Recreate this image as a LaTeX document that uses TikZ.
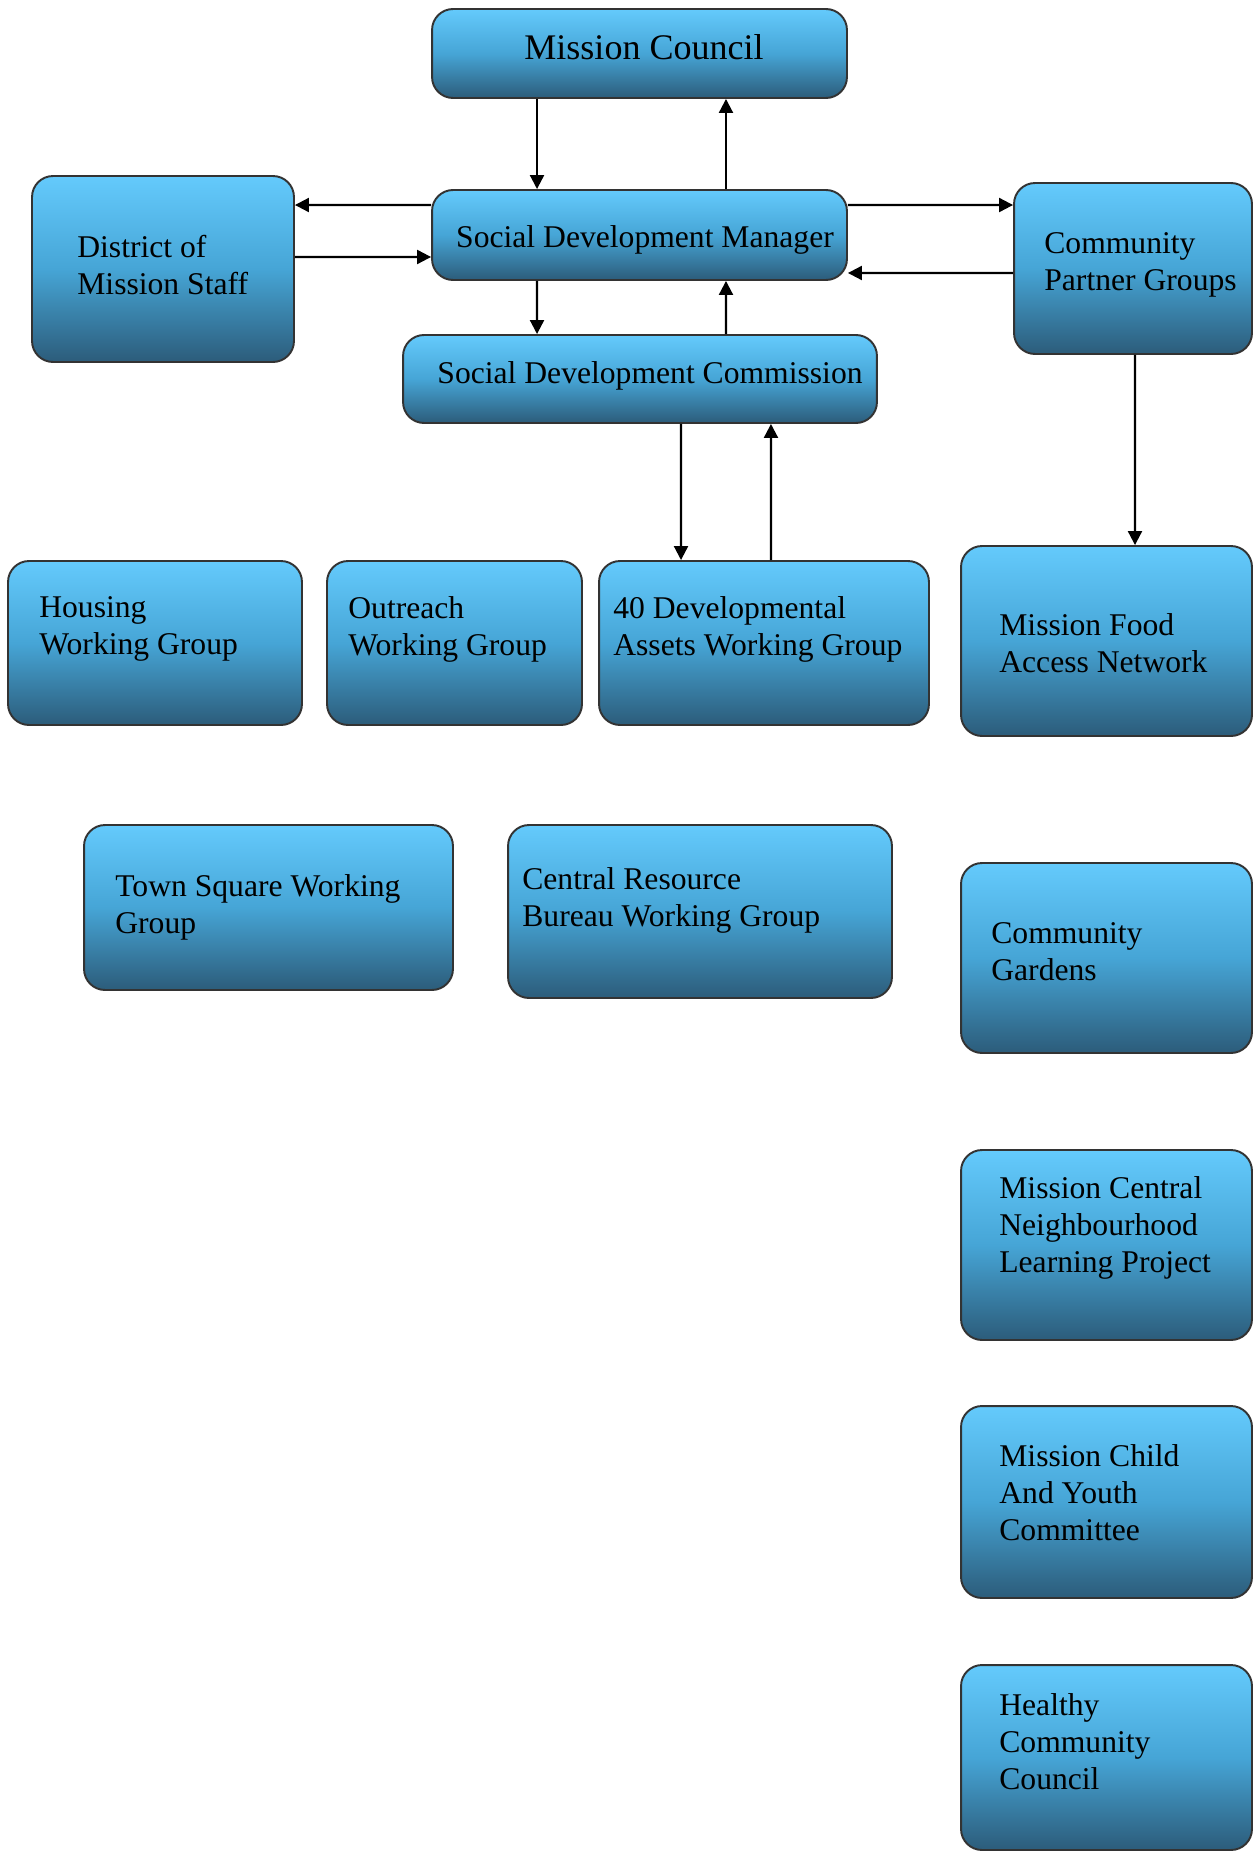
\documentclass[tikz,border=0pt]{standalone}
\usepackage{fontspec}
\setmainfont{Liberation Serif}
\usetikzlibrary{arrows.meta,positioning}
\definecolor{boxtop}{RGB}{100,202,252}
\definecolor{boxmid}{RGB}{70,165,214}
\definecolor{boxbot}{RGB}{44,92,122}

\begin{document}
\begin{tikzpicture}[x=0.02cm, y=-0.02cm,
	box/.style={draw=black!80, line width=1.1pt, rounded corners=0.42cm,
		top color=boxtop, bottom color=boxbot, middle color=boxmid, inner sep=0pt},
	lbl/.style={anchor=west, align=left, inner sep=0pt, font=\fontsize{18}{21}\selectfont},
	arr/.style={-{Triangle[length=0.28cm,width=0.28cm]}, line width=1.2pt}]
		\useasboundingbox[fill=white] (0,0) rectangle (1254,1852);
		% boxes
		\begin{scope}
			\node[box, minimum width=8.3cm, minimum height=1.78cm] (mc) at (639.5,53.5) {};
			\node[box, minimum width=8.3cm, minimum height=1.8cm] (sdm) at (639.5,235) {};
			\node[box, minimum width=9.48cm, minimum height=1.76cm] (sdc) at (640,379) {};
			\node[box, minimum width=5.24cm, minimum height=3.72cm] (dist) at (163,269) {};
			\node[box, minimum width=4.76cm, minimum height=3.42cm] (cpg) at (1133,268.5) {};
			\node[box, minimum width=5.88cm, minimum height=3.28cm] (hous) at (155,643) {};
			\node[box, minimum width=5.1cm, minimum height=3.28cm] (outr) at (454.5,643) {};
			\node[box, minimum width=6.6cm, minimum height=3.28cm] (dev) at (764,643) {};
			\node[box, minimum width=5.82cm, minimum height=3.8cm] (food) at (1106.5,641) {};
			\node[box, minimum width=7.38cm, minimum height=3.3cm] (town) at (268.5,907.5) {};
			\node[box, minimum width=7.68cm, minimum height=3.46cm] (bureau) at (700,911.5) {};
			\node[box, minimum width=5.82cm, minimum height=3.8cm] (gard) at (1106.5,958) {};
			\node[box, minimum width=5.82cm, minimum height=3.8cm] (mcnlp) at (1106.5,1245) {};
			\node[box, minimum width=5.82cm, minimum height=3.84cm] (child) at (1106.5,1502) {};
			\node[box, minimum width=5.82cm, minimum height=3.7cm] (health) at (1106.5,1757.5) {};
		\end{scope}
		% texts
		\begin{scope}
			\node[lbl, anchor=center, font=\fontsize{20.5}{24}\selectfont] (mc-t) at (644,47) {Mission Council};
			\node[lbl, anchor=center] (sdm-t) at (645,240) {Social Development Manager};
			\node[lbl, anchor=center] (sdc-t) at (650,376) {Social Development Commission};
			\node[lbl] (dist-t) at (77,265) {District of\\Mission Staff};
			\node[lbl] (cpg-t) at (1044,265) {Community\\Partner Groups};
			\node[lbl] (hous-t) at (39,629) {Housing\\Working Group};
			\node[lbl] (outr-t) at (348,629) {Outreach\\Working Group};
			\node[lbl] (dev-t) at (613,629) {40 Developmental\\Assets Working Group};
			\node[lbl] (food-t) at (999,643) {Mission Food\\Access Network};
			\node[lbl] (town-t) at (115,907) {Town Square Working\\Group};
			\node[lbl] (bureau-t) at (522,900) {Central Resource\\Bureau Working Group};
			\node[lbl] (gard-t) at (991,952) {Community\\Gardens};
			\node[lbl] (mcnlp-t) at (999,1228) {Mission Central\\Neighbourhood\\Learning Project};
			\node[lbl] (child-t) at (999,1493) {Mission Child\\And Youth\\Committee};
			\node[lbl] (health-t) at (999,1742) {Healthy\\Community\\Council};
		\end{scope}
		% connectors
		\begin{scope}
			\draw[arr] ([xshift=-2.05cm]mc.south) -- ([xshift=-2.05cm]sdm.north);
			\draw[arr] ([xshift=1.73cm]sdm.north) -- ([xshift=1.73cm]mc.south);
			\draw[arr] ([yshift=0.6cm]sdm.west) -- ([yshift=1.28cm]dist.east);
			\draw[arr] ([yshift=0.24cm]dist.east) -- ([yshift=-0.44cm]sdm.west);
			\draw[arr] ([yshift=0.6cm]sdm.east) -- ([yshift=1.27cm]cpg.west);
			\draw[arr] ([yshift=-0.09cm]cpg.west) -- ([yshift=-0.76cm]sdm.east);
			\draw[arr] ([xshift=-2.05cm]sdm.south) -- ([xshift=-2.06cm]sdc.north);
			\draw[arr] ([xshift=1.72cm]sdc.north) -- ([xshift=1.73cm]sdm.south);
			\draw[arr] ([xshift=0.82cm]sdc.south) -- ([xshift=-1.66cm]dev.north);
			\draw[arr] ([xshift=0.14cm]dev.north) -- ([xshift=2.62cm]sdc.south);
			\draw[arr] ([xshift=0.04cm]cpg.south) -- ([xshift=0.57cm]food.north);
		\end{scope}
	\end{tikzpicture}
\end{document}
